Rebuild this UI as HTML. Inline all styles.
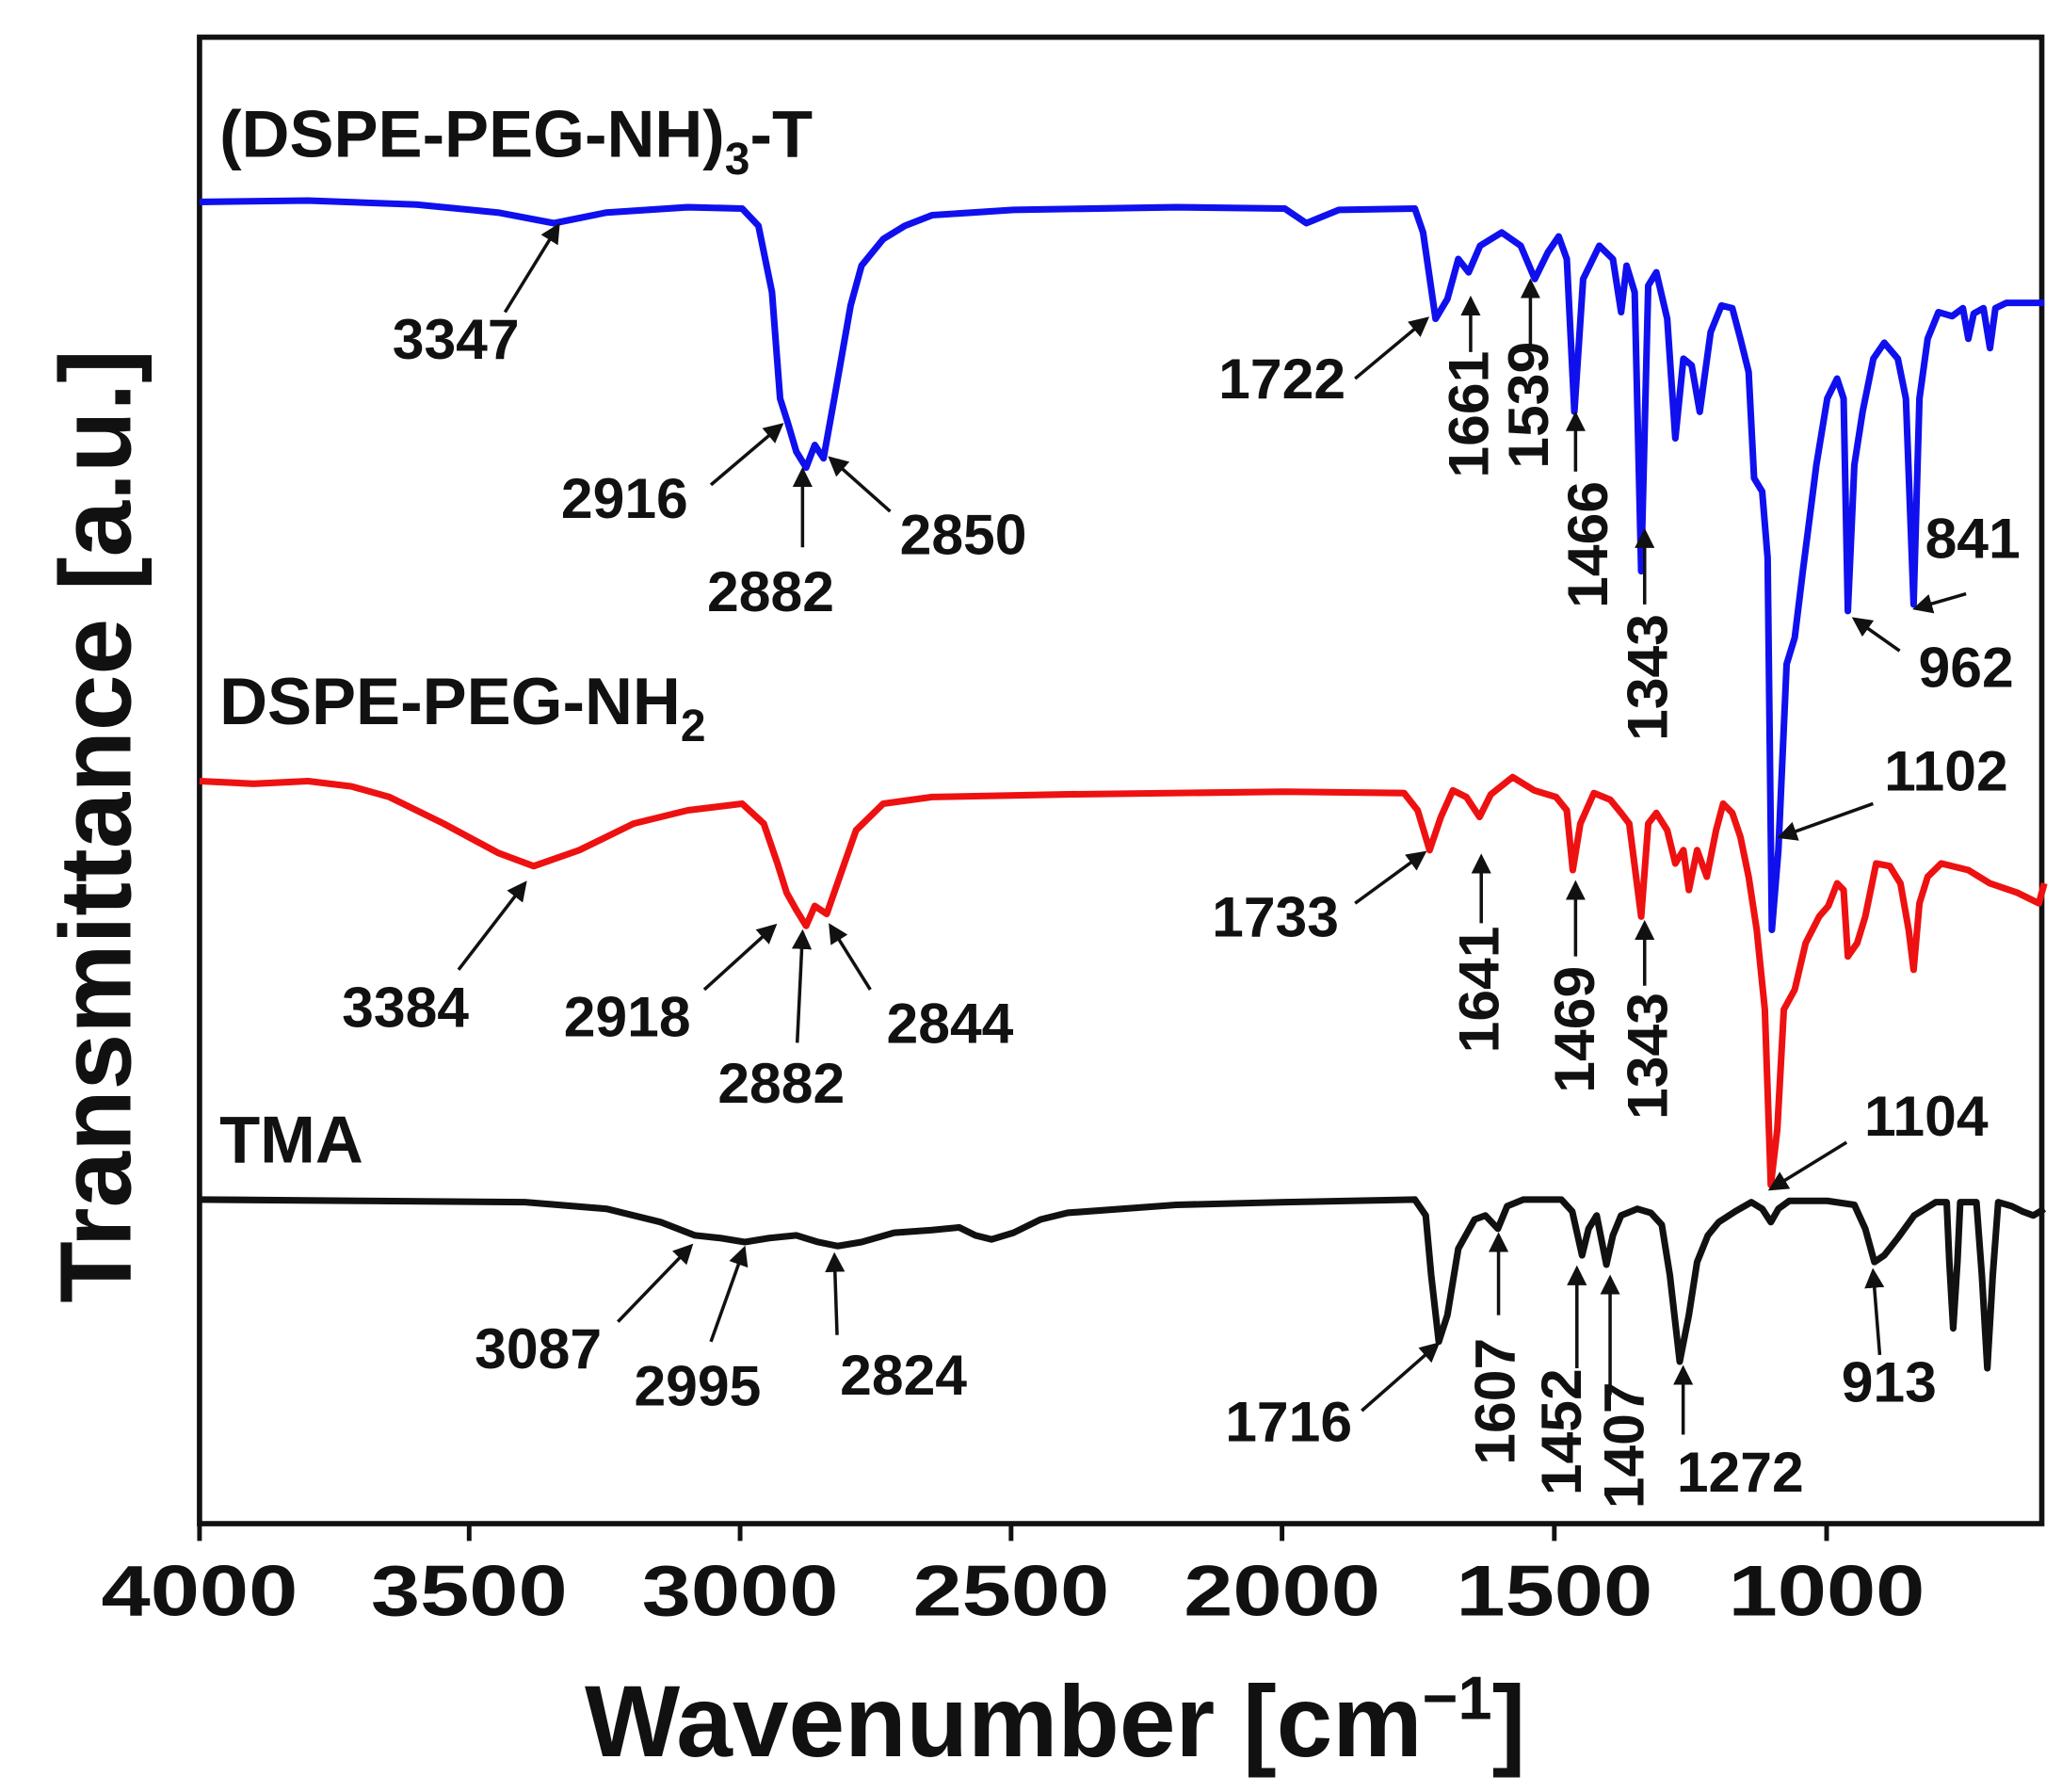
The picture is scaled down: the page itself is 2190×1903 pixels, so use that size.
<!DOCTYPE html>
<html><head><meta charset="utf-8"><style>
html,body{margin:0;padding:0;background:#fff;}
svg{display:block;}
text{font-family:"Liberation Sans",Arial,sans-serif;font-weight:bold;fill:#111;}
</style></head><body>
<svg id="s" width="2190" height="1903" viewBox="0 0 1552 1349" xmlns="http://www.w3.org/2000/svg">
<defs><marker id="ah" markerWidth="6" markerHeight="6" refX="5" refY="3" orient="auto" markerUnits="strokeWidth"><path d="M0,0 L6,3 L0,6 z" fill="#111"/></marker></defs>
<rect x="150" y="28" width="1387" height="1119" fill="none" stroke="#111" stroke-width="4"/>
<g stroke="#111" stroke-width="3.5">
<line x1="150" y1="1147" x2="150" y2="1160"/><line x1="353" y1="1147" x2="353" y2="1160"/><line x1="557" y1="1147" x2="557" y2="1160"/><line x1="761" y1="1147" x2="761" y2="1160"/><line x1="965" y1="1147" x2="965" y2="1160"/><line x1="1170" y1="1147" x2="1170" y2="1160"/><line x1="1375" y1="1147" x2="1375" y2="1160"/>
</g>
<g font-size="54" text-anchor="middle">
<text x="150" y="1216" textLength="148" lengthAdjust="spacingAndGlyphs">4000</text><text x="353" y="1216" textLength="148" lengthAdjust="spacingAndGlyphs">3500</text><text x="557" y="1216" textLength="148" lengthAdjust="spacingAndGlyphs">3000</text><text x="761" y="1216" textLength="148" lengthAdjust="spacingAndGlyphs">2500</text><text x="965" y="1216" textLength="148" lengthAdjust="spacingAndGlyphs">2000</text><text x="1170" y="1216" textLength="148" lengthAdjust="spacingAndGlyphs">1500</text><text x="1375" y="1216" textLength="148" lengthAdjust="spacingAndGlyphs">1000</text>
</g>
<text x="440" y="1322" font-size="76">Wavenumber [cm<tspan dy="-28" font-size="46">−1</tspan><tspan dy="28">]</tspan></text>
<text transform="translate(98,622) rotate(-90)" font-size="76" text-anchor="middle">Transmittance [a.u.]</text>
<text x="165" y="118" font-size="50">(DSPE-PEG-NH)<tspan dy="13" font-size="34">3</tspan><tspan dy="-13">-T</tspan></text>
<text x="165" y="545" font-size="50">DSPE-PEG-NH<tspan dy="13" font-size="34">2</tspan></text>
<text x="165" y="875" font-size="50">TMA</text>
<g id="curves" fill="none" stroke-width="5" stroke-linejoin="round"></g>
<g id="ann" stroke="#111" stroke-width="2.5" fill="none"></g>
<g id="lab" font-size="43"></g>
</svg>
<script>
function X(w){return 150+(4000-w)*0.4085;}
var blue=[[4000,152],[3800,151],[3600,154],[3450,160],[3347,168],[3250,160],[3100,156],[3000,157],[2970,170],[2945,220],[2930,300],[2916,318],[2900,340],[2882,352],[2866,335],[2850,345],[2830,300],[2800,230],[2780,200],[2740,180],[2700,170],[2650,162],[2500,158],[2200,156],[2000,157],[1960,168],[1900,158],[1760,157],[1745,175],[1722,240],[1700,225],[1680,195],[1661,205],[1640,185],[1600,175],[1565,185],[1539,210],[1515,190],[1495,178],[1480,195],[1466,310],[1450,210],[1420,185],[1395,195],[1380,235],[1370,200],[1355,220],[1343,430],[1330,215],[1315,205],[1295,240],[1280,330],[1265,270],[1250,275],[1235,310],[1215,250],[1195,230],[1175,232],[1160,255],[1145,280],[1135,360],[1120,370],[1110,420],[1102,700],[1090,640],[1075,500],[1060,480],[1045,430],[1020,350],[1000,300],[982,285],[970,300],[962,460],[950,350],[935,310],[915,270],[895,258],[870,270],[855,300],[841,455],[830,300],[815,255],[795,235],[770,238],[750,232],[740,255],[730,236],[712,232],[700,262],[690,232],[670,228],[600,228]];
var red=[[4000,588],[3900,590],[3800,588],[3720,592],[3650,600],[3550,620],[3450,642],[3384,652],[3300,640],[3200,620],[3100,610],[3000,605],[2960,620],[2935,650],[2918,672],[2900,685],[2882,697],[2866,682],[2844,688],[2820,660],[2790,625],[2740,605],[2650,600],[2400,598],[2000,596],[1780,597],[1755,610],[1733,640],[1712,615],[1690,595],[1665,600],[1641,615],[1620,598],[1580,585],[1540,595],[1500,600],[1480,610],[1469,655],[1455,620],[1430,597],[1400,602],[1380,612],[1365,620],[1343,690],[1330,620],[1315,612],[1295,625],[1280,650],[1265,640],[1255,670],[1240,640],[1222,660],[1205,625],[1192,605],[1175,612],[1160,630],[1145,660],[1130,700],[1115,760],[1104,892],[1092,850],[1080,760],[1060,745],[1040,710],[1015,690],[998,682],[982,665],[970,670],[962,720],[945,710],[930,690],[910,650],[885,652],[865,665],[850,700],[841,730],[830,680],[815,660],[790,650],[740,655],[700,665],[650,672],[610,680],[600,665]];
var black=[[4000,903],[3700,904],[3400,905],[3250,910],[3150,920],[3087,930],[3040,932],[2995,935],[2950,932],[2900,930],[2860,935],[2824,938],[2780,935],[2720,928],[2650,926],[2600,924],[2570,930],[2540,933],[2500,928],[2450,918],[2400,913],[2200,907],[2000,905],[1760,903],[1740,915],[1730,960],[1716,1010],[1700,990],[1680,940],[1650,918],[1630,915],[1607,925],[1590,908],[1560,903],[1490,903],[1470,912],[1452,945],[1440,925],[1425,915],[1407,952],[1395,930],[1380,915],[1350,910],[1325,913],[1305,922],[1290,960],[1272,1025],[1255,990],[1240,950],[1220,930],[1200,920],[1170,912],[1140,905],[1120,910],[1104,920],[1090,910],[1070,904],[1000,904],[950,907],[930,925],[913,950],[895,945],[870,932],[840,915],[800,905],[780,905],[775,950],[768,1000],[760,950],[755,905],[725,905],[715,960],[705,1030],[695,960],[685,905],[660,908],[640,912],[620,915],[600,910]];
function path(d,c){var s="";d.forEach(function(p,i){s+=(i?"L":"M")+X(p[0]).toFixed(1)+","+p[1]+" ";});var e=document.createElementNS("http://www.w3.org/2000/svg","path");e.setAttribute("d",s);e.setAttribute("stroke",c);document.getElementById("curves").appendChild(e);}
path(blue,"#1010ee");path(red,"#ee1111");path(black,"#111");
var A=[["3347",343,270,0,380,235,420,170],["2916",470,390,0,535,365,588,320],["2882",580,460,0,604,412,604,354],["2850",725,417,0,670,385,625,345],
["1722",965,300,0,1020,285,1074,240],["1661",1105,312,1,1107,265,1107,225],["1539",1150,305,1,1152,260,1152,212],["1466",1195,410,1,1186,355,1186,312],["1343",1240,510,1,1238,455,1238,400],
["841",1485,420,0,1480,447,1442,458],["962",1480,517,0,1430,490,1396,466],["1102",1465,595,0,1410,605,1340,630],
["3384",305,773,0,345,730,395,665],["2918",472,780,0,530,745,583,697],["2882",588,830,0,600,785,604,702],["2844",715,785,0,655,745,625,697],
["1733",960,705,0,1020,680,1072,642],["1641",1113,745,1,1115,695,1115,645],["1469",1185,775,1,1186,720,1186,665],["1343",1240,795,1,1238,742,1238,695],["1104",1450,855,0,1390,860,1333,895],
["3087",405,1030,0,465,995,520,938],["2995",525,1058,0,535,1010,560,940],["2824",680,1050,0,630,1005,628,945],
["1716",970,1085,0,1025,1062,1082,1012],["1607",1125,1055,1,1128,990,1128,930],["1452",1175,1078,1,1187,1030,1187,955],["1407",1222,1088,1,1212,1050,1212,962],["1272",1310,1123,0,1267,1080,1267,1030],["913",1422,1055,0,1415,1020,1410,957]];
var NS="http://www.w3.org/2000/svg";
A.forEach(function(a){var l=document.createElementNS(NS,"line");l.setAttribute("x1",a[4]);l.setAttribute("y1",a[5]);l.setAttribute("x2",a[6]);l.setAttribute("y2",a[7]);l.setAttribute("marker-end","url(#ah)");document.getElementById("ann").appendChild(l);
var t=document.createElementNS(NS,"text");t.textContent=a[0];t.setAttribute("text-anchor","middle");
if(a[3]){t.setAttribute("transform","translate("+(a[1]+15)+","+a[2]+") rotate(-90)");}else{t.setAttribute("x",a[1]);t.setAttribute("y",a[2]);}
document.getElementById("lab").appendChild(t);});
</script>
</body></html>
